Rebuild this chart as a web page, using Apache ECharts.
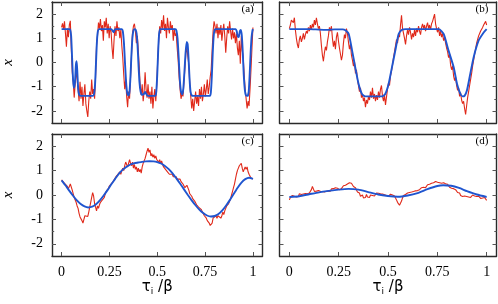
<!DOCTYPE html>
<html><head><meta charset="utf-8">
<script src="https://cdn.jsdelivr.net/npm/echarts@6/dist/echarts.min.js"></script>
<style>html,body{margin:0;padding:0;background:#fff}#c{width:498px;height:304px}</style>
</head><body><div id="c"></div>
<script>
const xTickValues = [0, 0.25, 0.5, 0.75, 1];
const xTickLabels = ['0', '0.25', '0.5', '0.75', '1'];
const yTickValues = [-2, -1, 0, 1, 2];
const yMinorValues = [-1.5, -0.5, 0.5, 1.5];
const panelLabels = ['(a)', '(b)', '(c)', '(d)'];

const redA = [
1.45,1.62,1.35,1.70,1.20,0.65,1.40,1.05,1.55,1.72,
0.6,-0.4,-0.8,-1.45,-0.9,-0.3,-0.7,-1.1,-1.6,-0.8,
-1.5,-1.0,-1.8,-1.3,-0.9,-1.7,-2.0,-2.25,-1.6,-1.2,
-1.5,-0.7,-1.3,-1.1,-1.5,-0.6,0.7,1.1,1.65,1.4,
1.8,1.3,1.55,0.9,1.7,1.45,1.85,1.2,1.6,1.0,
1.5,1.25,0.6,0.15,0.9,1.5,1.1,1.7,1.3,1.45,
1.0,1.35,0.7,0.2,-0.5,-1.1,-0.7,-1.4,-1.85,-1.2,
-1.5,-0.6,0.3,1.2,1.5,1.6,1.3,0.8,1.1,0.5,
-0.2,-1.0,-1.35,-0.9,-1.6,-1.2,-0.4,-1.1,-1.45,-0.9,
-1.5,-1.2,-1.7,-1.0,-1.9,-1.4,-1.1,-1.6,-0.9,0.1,
0.9,1.5,1.2,1.75,1.4,1.95,1.3,1.6,1.0,1.85,
1.45,1.2,1.7,1.35,1.55,0.9,1.4,1.1,1.2,0.6,
0.1,-0.6,-1.1,-1.5,-1.3,-1.4,-0.8,-0.2,0.4,0.6,
0.55,-0.1,-0.9,-1.4,-1.9,-1.5,-2.0,-1.6,-1.2,-1.7,
-1.4,-1.8,-1.1,-1.5,-1.0,-1.6,-1.3,-0.9,-1.4,-1.1,
-0.7,-1.3,-1.0,-0.6,-0.3,0.5,1.3,1.7,1.5,1.2,
1.6,1.0,1.45,1.15,1.55,0.9,1.3,1.6,1.1,0.4,
1.0,1.5,1.2,1.7,1.3,0.95,1.4,1.0,1.25,0.8,
1.2,0.6,0.3,0.9,-0.05,1.1,0.5,0.2,-0.5,-1.1,
-1.5,-1.9,-1.6,-1.8,-1.1,-0.3,0.6,1.45];

const redB = [
1.40,1.55,1.75,1.80,1.65,1.85,1.35,1.00,0.75,0.60,
0.95,1.10,0.85,1.00,1.20,0.95,1.15,1.30,1.20,1.45,
1.30,1.55,1.35,1.60,1.45,1.75,1.55,1.85,1.60,1.40,
1.50,1.20,0.70,0.30,0.05,0.40,0.65,0.50,0.85,1.10,
1.45,1.30,1.50,1.00,0.65,0.90,0.55,1.05,1.25,0.90,
0.60,0.35,0.10,0.30,0.80,1.15,1.00,1.40,1.20,0.85,
0.55,0.75,0.30,0.10,-0.15,0.05,-0.45,-0.30,-0.70,-0.95,
-1.20,-1.05,-1.45,-1.30,-1.60,-1.45,-1.85,-1.55,-1.70,-1.40,
-1.55,-1.20,-1.45,-1.05,-1.50,-1.30,-1.60,-1.35,-1.55,-1.20,
-1.45,-1.10,-0.95,-1.40,-1.60,-1.35,-1.75,-1.80,-1.10,-0.85,
-0.95,-0.55,-0.35,-0.10,0.20,0.45,0.70,0.95,0.80,1.15,
1.05,1.55,1.95,1.40,1.20,1.00,0.75,1.10,1.35,1.15,
1.45,1.25,0.95,1.20,1.05,1.35,1.10,1.40,1.25,1.50,
1.30,1.15,1.45,1.60,1.40,1.55,1.30,1.50,1.65,1.40,
1.55,1.35,1.60,1.70,1.85,2.00,1.60,1.40,1.25,1.45,
1.10,1.30,1.05,1.20,0.90,1.05,0.80,0.60,0.45,0.20,
0.35,-0.10,-0.30,-0.15,-0.55,-0.75,-0.60,-0.95,-1.15,-1.05,
-1.40,-1.25,-1.55,-1.70,-1.60,-1.90,-2.15,-1.80,-1.45,-1.20,
-0.95,-0.70,-0.45,-0.15,0.10,0.35,0.55,0.80,0.95,1.10,
1.20,1.30,1.25,1.45,1.55,1.50,1.70,1.55];

const redC = [
0.62,0.55,0.60,0.48,0.52,0.40,0.35,0.25,0.32,0.45,
0.50,0.20,0.05,-0.10,-0.05,-0.30,-0.45,-0.55,-0.75,-0.90,
-0.85,-1.05,-1.15,-1.00,-0.85,-0.90,-0.80,-0.88,-0.70,-0.50,
-0.30,-0.10,0.10,-0.05,-0.35,-0.50,-0.65,-0.45,-0.55,-0.40,
-0.30,-0.35,-0.20,-0.25,-0.10,0.05,0.15,0.10,0.25,0.35,
0.30,0.45,0.40,0.55,0.50,0.60,0.75,0.70,0.85,0.80,
0.95,0.85,1.00,1.10,1.00,1.20,1.35,1.25,1.15,1.30,
1.45,1.30,1.20,1.35,1.10,1.25,1.05,1.15,0.95,1.10,
0.95,1.05,0.90,1.15,1.30,1.25,1.50,1.65,1.80,1.92,
1.75,1.85,1.60,1.70,1.55,1.65,1.50,1.60,1.45,1.50,
1.35,1.45,1.30,1.40,1.25,1.15,1.20,1.05,1.10,0.95,
1.00,0.85,0.90,0.80,0.85,0.75,0.80,0.70,0.75,0.65,
0.70,0.60,0.65,0.55,0.60,0.45,0.50,0.30,0.25,0.40,
0.35,0.20,0.05,0.10,-0.05,-0.15,-0.10,-0.25,-0.30,-0.40,
-0.35,-0.50,-0.45,-0.55,-0.60,-0.70,-0.75,-0.85,-0.80,-0.95,
-1.05,-1.00,-1.15,-1.25,-1.30,-1.15,-0.95,-0.90,-1.00,-0.85,
-0.95,-0.85,-0.90,-0.80,-0.95,-0.85,-0.70,-0.80,-0.65,-0.55,
-0.45,-0.50,-0.35,-0.30,-0.15,0.00,0.15,0.30,0.45,0.65,
0.85,1.00,1.10,1.20,1.15,1.30,1.10,0.95,1.05,1.15,
1.05,1.15,0.95,0.85,0.80,0.70,0.75,0.65];

const redD = [
-0.20,-0.10,-0.15,-0.02,-0.10,-0.05,0.02,-0.08,0.00,-0.06,
0.05,-0.03,0.02,-0.05,0.04,0.00,0.06,-0.02,0.05,0.12,
0.08,0.14,0.22,0.35,0.28,0.15,0.10,0.16,0.12,0.18,
0.10,0.15,0.20,0.14,0.19,0.12,0.06,0.15,0.10,0.17,
0.22,0.16,0.25,0.20,0.26,0.22,0.30,0.24,0.28,0.22,
0.22,0.30,0.26,0.34,0.38,0.32,0.40,0.35,0.45,0.42,
0.50,0.44,0.48,0.40,0.35,0.42,0.30,0.22,0.12,0.05,
0.08,-0.05,-0.10,0.00,-0.12,-0.06,-0.10,0.02,-0.08,-0.05,
-0.10,0.00,0.06,-0.02,0.05,-0.04,0.03,0.08,0.02,0.07,
0.00,0.05,0.10,0.04,0.08,0.01,0.05,-0.02,0.03,-0.05,
-0.02,0.03,-0.05,0.00,-0.06,-0.04,-0.12,-0.20,-0.30,-0.38,
-0.42,-0.35,-0.25,-0.12,-0.02,0.05,0.02,0.10,0.08,0.15,
0.10,0.15,0.12,0.18,0.14,0.20,0.17,0.22,0.18,0.25,
0.22,0.26,0.30,0.26,0.32,0.36,0.30,0.38,0.42,0.36,
0.44,0.40,0.48,0.42,0.50,0.46,0.55,0.48,0.52,0.45,
0.50,0.56,0.48,0.44,0.50,0.42,0.46,0.40,0.44,0.36,
0.32,0.36,0.28,0.22,0.26,0.18,0.22,0.14,0.10,0.05,
0.08,-0.02,0.04,-0.06,-0.10,-0.04,-0.12,-0.06,-0.02,-0.08,
-0.03,-0.10,-0.05,0.00,-0.08,-0.04,-0.10,-0.06,-0.12,-0.05,
-0.09,-0.14,-0.08,-0.12,-0.06,-0.10,-0.15,-0.22];

const blueA_t = [0,0.04,0.045,0.05,0.055,0.06,0.065,0.07,0.075,0.079,0.083,0.087,0.092,0.1,
0.165,0.17,0.175,0.18,0.185,0.19,0.197,
0.26,0.267,0.272,0.278,0.285,
0.315,0.32,0.326,0.332,0.338,0.344,0.35,0.355,0.36,0.365,0.37,0.375,0.38,0.387,0.392,0.397,0.402,0.407,0.413,0.42,0.43,0.437,0.444,0.452,
0.49,0.495,0.5,0.505,0.51,0.517,
0.595,0.6,0.606,0.612,0.618,0.624,0.63,0.636,0.642,0.648,0.654,0.659,0.664,0.669,0.674,0.68,0.69,
0.775,0.78,0.785,0.79,0.795,0.8,0.807,
0.91,0.915,0.92,0.926,0.932,0.937,0.942,0.947,0.952,0.958,0.964,0.972,0.978,0.983,0.988,0.993,0.997,1];
const blueA_x = [1.38,1.38,1.35,1.1,0.2,-0.7,-1.05,-0.8,-0.1,0.05,-0.5,-1.1,-1.33,-1.38,
-1.38,-1.3,-0.9,0.0,0.9,1.3,1.38,
1.38,1.3,1.25,1.36,1.38,
1.38,1.3,0.8,-0.1,-0.9,-1.3,-1.36,-1.2,-0.6,0.3,1.0,1.3,1.38,1.36,1.2,0.7,-0.1,-0.8,-1.2,-1.33,-1.3,-1.22,-1.32,-1.38,
-1.38,-1.2,-0.5,0.5,1.2,1.38,
1.38,1.32,1.0,0.2,-0.7,-1.2,-1.32,-1.1,-0.4,0.4,0.85,0.75,0.1,-0.7,-1.2,-1.36,-1.38,
-1.38,-1.25,-0.6,0.4,1.1,1.35,1.38,
1.38,1.3,1.1,1.05,1.3,1.35,1.1,0.4,-0.5,-1.15,-1.37,-1.38,-1.2,-0.5,0.4,1.05,1.3,1.38];

const blueB_t = [0,0.1,0.15,0.19,0.23,0.27,0.284,0.301,0.318,0.334,0.351,0.368,0.385,0.47,0.486,0.503,0.52,0.537,0.554,0.571,0.59,0.757,0.782,0.807,0.833,0.85,0.867,0.878,0.888,0.9,0.917,0.934,0.959,0.985,1];
const blueB_x = [1.38,1.38,1.36,1.35,1.37,1.37,1.33,1.18,0.49,-0.2,-0.89,-1.3,-1.4,-1.4,-1.3,-0.89,-0.2,0.49,1.18,1.35,1.38,1.38,1.18,0.49,-0.2,-0.89,-1.3,-1.4,-1.38,-1.16,-0.47,0.21,0.9,1.24,1.38];

const blueC_t = [0,0.02,0.04,0.06,0.08,0.1,0.12,0.14,0.16,0.18,0.2,0.22,0.24,0.26,0.28,0.3,0.32,0.34,0.36,0.38,0.4,0.42,0.44,0.46,0.48,0.5,0.52,0.54,0.56,0.58,0.6,0.62,0.64,0.66,0.68,0.7,0.72,0.74,0.76,0.78,0.8,0.82,0.84,0.86,0.88,0.9,0.92,0.94,0.96,0.98,1];
const blueC_x = [0.60,0.40,0.18,-0.03,-0.22,-0.37,-0.47,-0.51,-0.48,-0.38,
-0.22,-0.02,0.20,0.44,0.66,0.88,1.04,1.16,1.25,1.30,
1.33,1.36,1.38,1.385,1.38,1.35,1.29,1.19,1.06,0.89,
0.68,0.46,0.23,0.0,-0.22,-0.42,-0.60,-0.74,-0.84,-0.88,
-0.86,-0.78,-0.63,-0.43,-0.20,0.05,0.30,0.51,0.65,0.71,0.66];

const blueD_t = [0,0.05,0.1,0.15,0.2,0.25,0.3,0.35,0.4,0.45,0.5,0.55,0.6,0.65,0.7,0.75,0.78,0.82,0.86,0.9,0.95,1];
const blueD_x = [-0.08,-0.05,0.03,0.11,0.17,0.22,0.25,0.22,0.12,0.02,-0.04,-0.07,-0.02,0.08,0.24,0.37,0.40,0.38,0.29,0.16,0.02,-0.08];

const reds = [redA, redB, redC, redD];
const blues = [[blueA_t, blueA_x], [blueB_t, blueB_x], [blueC_t, blueC_x], [blueD_t, blueD_x]];

const grids = [
  {left: 45, top: 2, width: 217.5, height: 121},
  {left: 279.5, top: 2, width: 217, height: 121},
  {left: 45, top: 134, width: 217.5, height: 122},
  {left: 279.5, top: 134, width: 217, height: 122}
];
const frameColor = '#2a2a2a';
const tickColor = '#555';
const serif = 'Liberation Serif';

const xAxes = [], yAxes = [], series = [], graphics = [];
for (let p = 0; p < 4; p++) {
  const bottomRow = p >= 2, leftCol = p % 2 === 0;
  ['bottom', 'top'].forEach((pos, k) => {
    xAxes.push({
      type: 'value', gridIndex: p, position: pos, min: -0.05, max: 1.05,
      axisLine: {show: true, onZero: false, lineStyle: {color: frameColor, width: 1.4}},
      axisTick: {show: true, inside: true, length: 4, customValues: xTickValues, lineStyle: {color: tickColor, width: 1}},
      axisLabel: {show: bottomRow && k === 0, customValues: xTickValues, margin: 9,
        formatter: v => xTickLabels[xTickValues.indexOf(v)],
        fontFamily: serif, fontSize: 14, color: '#000'},
      splitLine: {show: false},
      name: (bottomRow && k === 0) ? '{t|τ}{s|i}{t| /β}' : '',
      nameLocation: 'middle', nameGap: 22,
      nameTextStyle: {rich: {
        t: {fontFamily: 'DejaVu Sans', fontSize: 15, color: '#000'},
        s: {fontFamily: 'DejaVu Sans', fontSize: 9, color: '#000', padding: [8, 0, 0, 0]}
      }}
    });
  });
  [['left', yTickValues, 4], ['right', yTickValues, 4], ['left', yMinorValues, 2.2], ['right', yMinorValues, 2.2]].forEach(([pos, vals, len], k) => {
    yAxes.push({
      type: 'value', gridIndex: p, position: pos, min: -2.5, max: 2.5,
      axisLine: {show: k < 2, onZero: false, lineStyle: {color: frameColor, width: 1.4}},
      axisTick: {show: true, inside: true, length: len, customValues: vals, lineStyle: {color: tickColor, width: 1}},
      axisLabel: {show: leftCol && k === 0, customValues: yTickValues, margin: 9,
        fontFamily: serif, fontSize: 14, color: '#000'},
      splitLine: {show: false},
      name: (leftCol && k === 0) ? 'x' : '',
      nameLocation: 'middle', nameGap: 36, nameRotate: 90,
      nameTextStyle: {fontFamily: serif, fontStyle: 'italic', fontSize: 15, color: '#000'}
    });
  });
  const red = reds[p];
  series.push({
    type: 'line', xAxisIndex: 2 * p, yAxisIndex: 4 * p, showSymbol: false, animation: false,
    data: red.map((v, i) => [i / (red.length - 1), v]),
    lineStyle: {color: '#e0291a', width: 1.1}, z: 2
  });
  const [bt, bx] = blues[p];
  series.push({
    type: 'line', xAxisIndex: 2 * p, yAxisIndex: 4 * p, showSymbol: false, animation: false,
    smooth: 0.2,
    data: bt.map((t, i) => [t, bx[i]]),
    lineStyle: {color: '#1f55cf', width: 1.9}, z: 3
  });
  const g = grids[p];
  graphics.push({
    type: 'text', left: g.left + g.width - 21, top: g.top + 1.5,
    style: {text: panelLabels[p], font: '11px "Liberation Serif"', fill: '#000'}
  });
}

const chart = echarts.init(document.getElementById('c'), null, {renderer: 'canvas'});
chart.setOption({
  animation: false,
  backgroundColor: '#fff',
  grid: grids,
  xAxis: xAxes,
  yAxis: yAxes,
  series: series,
  graphic: graphics
});
</script></body></html>
